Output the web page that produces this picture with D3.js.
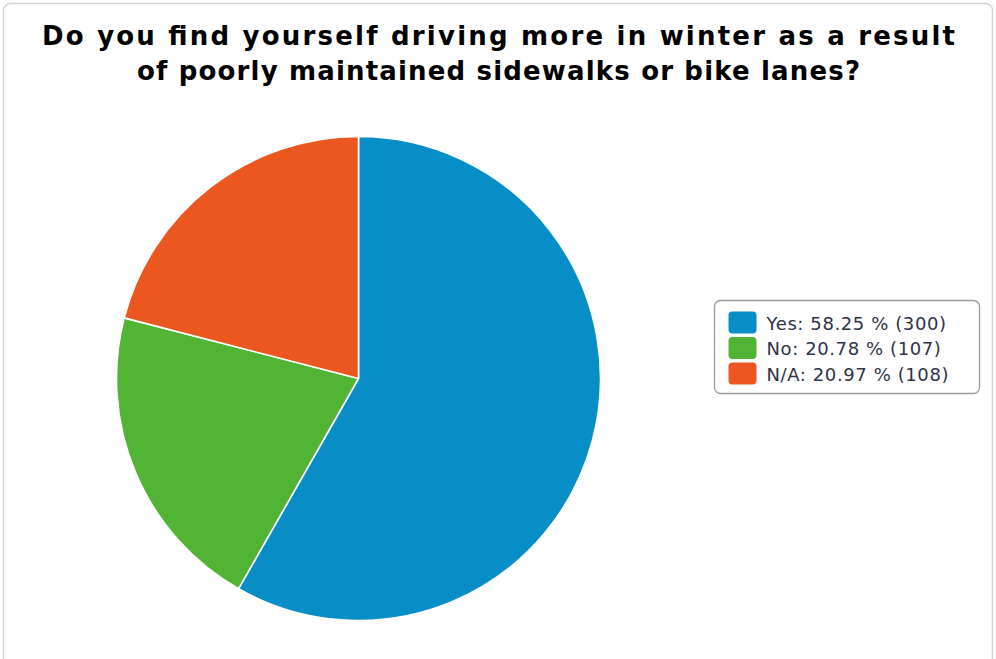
<!DOCTYPE html>
<html>
<head>
<meta charset="utf-8">
<script src="https://cdn.jsdelivr.net/npm/d3@7"></script>
<style>
  html, body { margin: 0; padding: 0; background: #ffffff; }
  svg { display: block; }
</style>
</head>
<body>
<svg id="chart" width="996" height="659"></svg>
<script>
// Survey answers and their response counts
const categories = ["Yes", "No", "N/A"];
const counts = [300, 107, 108];
const percents = [58.25, 20.78, 20.97];
const colors = ["#078ec7", "#52b434", "#eb571e"];
const titleLines = [
  "Do you find yourself driving more in winter as a result",
  "of poorly maintained sidewalks or bike lanes?"
];

const svg = d3.select("#chart");
const W = 996, H = 659;

// Outer frame (open at the bottom edge of the view)
svg.append("rect")
  .attr("x", 3.5).attr("y", 3.5)
  .attr("width", 989).attr("height", H + 20)
  .attr("rx", 7).attr("ry", 7)
  .attr("fill", "#ffffff")
  .attr("stroke", "#d4d4d4")
  .attr("stroke-width", 1.5);

// Title
const titleWidths = [913, 723];
svg.append("g").selectAll("text")
  .data(titleLines)
  .join("text")
  .attr("x", 498.5)
  .attr("y", (d, i) => 45 + i * 35)
  .attr("text-anchor", "middle")
  .attr("font-family", "DejaVu Sans, Verdana, sans-serif")
  .attr("font-weight", "bold")
  .attr("font-size", 26)
  .attr("textLength", (d, i) => titleWidths[i])
  .attr("lengthAdjust", "spacing")
  .attr("fill", "#000000")
  .text(d => d);

// Pie
const data = categories.map((c, i) => ({ cat: c, count: counts[i], pct: percents[i], color: colors[i] }));
const pie = d3.pie().value(d => d.count).sort(null);
const radius = 242;
const arc = d3.arc().innerRadius(0).outerRadius(radius);

const pieG = svg.append("g").attr("transform", "translate(358.5,378.5)");
pieG.selectAll("path")
  .data(pie(data))
  .join("path")
  .attr("d", arc)
  .attr("fill", d => d.data.color)
  .attr("stroke", "#ffffff")
  .attr("stroke-width", 1.6)
  .attr("stroke-linejoin", "round");

// Legend
const legend = svg.append("g").attr("transform", "translate(714.5,300.5)");
legend.append("rect")
  .attr("width", 265).attr("height", 93)
  .attr("rx", 6).attr("ry", 6)
  .attr("fill", "#ffffff")
  .attr("stroke", "#9a9a9a")
  .attr("stroke-width", 1.3);

const items = legend.selectAll("g.item")
  .data(data)
  .join("g")
  .attr("class", "item")
  .attr("transform", (d, i) => `translate(14,${11 + i * 25.5})`);

items.append("rect")
  .attr("width", 28).attr("height", 22)
  .attr("rx", 4).attr("ry", 4)
  .attr("fill", d => d.color);

items.append("text")
  .attr("x", 38)
  .attr("y", 18)
  .attr("font-family", "DejaVu Sans, Verdana, sans-serif")
  .attr("font-size", 18)
  .attr("letter-spacing", 0.6)
  .attr("fill", "#2e3346")
  .text(d => `${d.cat}: ${d.pct.toFixed(2)} % (${d.count})`);
</script>
</body>
</html>
